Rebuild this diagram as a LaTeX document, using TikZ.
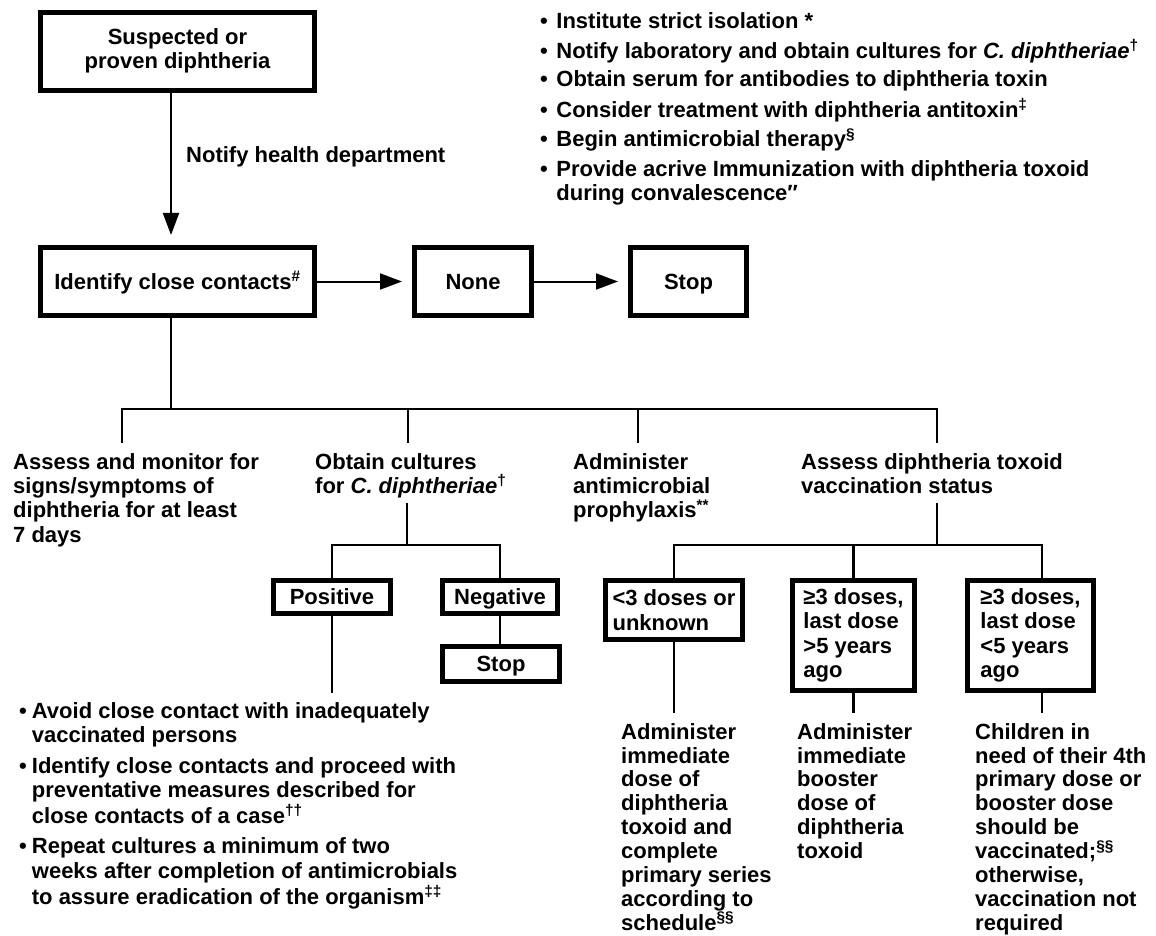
\documentclass[tikz,border=0pt]{standalone}
\usepackage{fontspec}
\setmainfont{Liberation Sans}
\usetikzlibrary{arrows.meta}
\newcommand{\sptxt}[1]{\textsuperscript{#1}}
\begin{document}
\begin{tikzpicture}[x=1pt,y=-1pt,
  every node/.style={font=\fontsize{22}{24.3}\selectfont\bfseries, inner sep=0pt},
  boxnode/.style={draw=black, line width=5pt, align=center},
  onebox/.style={draw=black, line width=5pt, text height=15.8pt, text depth=0pt},
  dosebox/.style={draw=black, line width=5pt, align=left},
  txt/.style={align=left, anchor=north west},
  tighttxt/.style={align=left, anchor=north west, font=\fontsize{22}{23.9}\selectfont\bfseries},
  conn/.style={line width=2.2pt},
  arr/.style={line width=2pt, -{Triangle[length=22pt,width=16pt]}, shorten >=10pt},
]
\useasboundingbox[fill=white] (0,0) rectangle (1156,936);

% top boxes
\node[boxnode, minimum width=274pt, minimum height=78pt, text depth=6pt] (susp) at (177.5,51.5) {\fontsize{22}{27}\selectfont Suspected or\\proven diphtheria};
\node[onebox, minimum width=274pt, minimum height=68pt] (ident) at (177.5,281.5) {Identify close contacts\sptxt{\#}};
\node[onebox, minimum width=117pt, minimum height=68pt] (none) at (473,281.5) {None};
\node[onebox, minimum width=116pt, minimum height=68pt] (stopa) at (688.5,281.5) {Stop};

\coordinate (ax) at (171,0);
\draw[arr] (susp.south -| ax) -- (ident.north -| ax);
\node[anchor=west] (notify) at (186,157) {Notify health department};
\draw[arr] (ident.east) -- (none.west);
\draw[arr] (none.east) -- (stopa.west);

% top-right list
\node[anchor=north west] (list) at (540,11) {\begin{tabular}{@{}l@{\hspace{8.5pt}}l@{}}
• & Institute strict isolation *\\[4.2pt]
• & Notify laboratory and obtain cultures for \textit{C. diphtheriae}\sptxt{†}\\[4.2pt]
• & Obtain serum for antibodies to diphtheria toxin\\[4.2pt]
• & Consider treatment with diphtheria antitoxin\sptxt{‡}\\[4.2pt]
• & Begin antimicrobial therapy\sptxt{§}\\[5.5pt]
• & Provide acrive Immunization with diphtheria toxoid\\
  & during convalescence″
\end{tabular}};

% first branch level
\coordinate (j0) at (171,409);
\coordinate (h1) at (122,409);
\coordinate (h2) at (408,409);
\coordinate (h3) at (638,409);
\coordinate (h4) at (937,409);
\coordinate (e1) at (122,443);
\coordinate (e2) at (408,443);
\coordinate (e3) at (638,443);
\coordinate (e4) at (937,443);
\draw[conn] (ident.south -| j0) -- (j0);
\draw[conn] (e1) -- (h1) -- (h4) -- (e4);
\draw[conn] (h2) -- (e2);
\draw[conn] (h3) -- (e3);

\node[txt] (monitor) at (13,453) {Assess and monitor for\\signs/symptoms of\\diphtheria for at least\\7 days};
\node[txt] (cult) at (315,453) {Obtain cultures\\for \textit{C. diphtheriae}\sptxt{†}};
\node[txt] (admin) at (573,453) {Administer\\antimicrobial\\prophylaxis\sptxt{**}};
\node[txt] (vacc) at (801,453) {Assess diphtheria toxoid\\vaccination status};

% cultures branch
\node[onebox, minimum width=117pt, minimum height=33pt] (pos) at (332,597) {Positive};
\node[onebox, minimum width=115pt, minimum height=33pt] (neg) at (500,597) {Negative};
\node[onebox, minimum width=117pt, minimum height=35pt] (stopb) at (501,664) {Stop};
\coordinate (c0) at (407,503);
\coordinate (c1) at (407,545);
\draw[conn] (c0) -- (c1);
\draw[conn] (pos.north) -- (pos.north |- c1) -- (neg.north |- c1) -- (neg.north);
\draw[conn] (neg.south) -- (stopb.north -| neg.south);
\coordinate (pend) at (332,693);
\draw[conn] (pos.south) -- (pend);

\node[anchor=north west] (plist) at (19,701) {\begin{tabular}{@{}l@{\hspace{5pt}}l@{}}
• & Avoid close contact with inadequately\\
  & vaccinated persons\\[6.2pt]
• & Identify close contacts and proceed with\\
  & preventative measures described for\\
  & close contacts of a case\sptxt{††}\\[6.2pt]
• & Repeat cultures a minimum of two\\
  & weeks after completion of antimicrobials\\
  & to assure eradication of the organism\sptxt{‡‡}
\end{tabular}};

% vaccination branch
\node[dosebox, minimum width=137pt, minimum height=59pt] (b1) at (674,610) {<3 doses or\\unknown};
\node[dosebox, minimum width=122pt, minimum height=110pt] (b2) at (853.5,635.5) {≥3 doses,\\last dose\\>5 years\\ago};
\node[dosebox, minimum width=126pt, minimum height=110pt] (b3) at (1030.5,635.5) {≥3 doses,\\last dose\\<5 years\\ago};
\coordinate (v0) at (937,503);
\coordinate (v1) at (937,545);
\coordinate (b3x) at (1042,545);
\draw[conn] (v0) -- (v1);
\draw[conn] (b1.north) -- (b1.north |- v1) -- (b3x) -- (b3x |- b3.north);
\draw[conn] (b2.north) -- (b2.north |- v1);
\coordinate (q1) at (674,713);
\coordinate (q2) at (853.5,713);
\coordinate (q3) at (1042,713);
\draw[conn] (b1.south) -- (q1);
\draw[conn] (b2.south) -- (q2);
\draw[conn] (b3.south -| q3) -- (q3);

\node[tighttxt] (r1) at (621,723) {Administer\\immediate\\dose of\\diphtheria\\toxoid and\\complete\\primary series\\according to\\schedule\sptxt{§§}};
\node[tighttxt] (r2) at (797,723) {Administer\\immediate\\booster\\dose of\\diphtheria\\toxoid};
\node[tighttxt] (r3) at (975,723) {Children in\\need of their 4th\\primary dose or\\booster dose\\should be\\vaccinated;\sptxt{§§}\\otherwise,\\vaccination not\\required};
\end{tikzpicture}
\end{document}
